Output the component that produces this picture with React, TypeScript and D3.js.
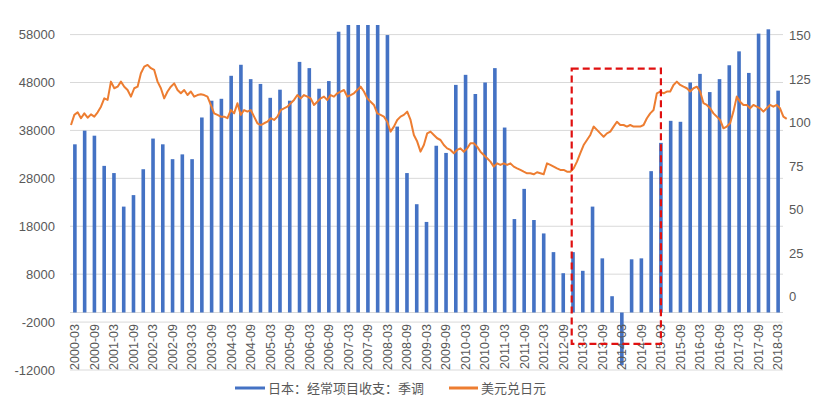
import * as React from "react";
import * as d3 from "d3";

// quarterly current account (left axis) and USD/JPY (right axis)
const years = d3.range(2000, 2019);
const quarterEnds = ["03", "06", "09", "12"];
const categories: string[] = years
  .flatMap(y => quarterEnds.map(q => `${y}-${q}`))
  .filter(c => c <= "2018-03");

const currentAccount = [
  35100, 37950, 36900, 30600, 29100, 22100, 24500, 29900, 36300, 35100,
  32000, 33000, 32000, 40700, 44200, 44600, 49400, 51700, 48700, 47700,
  44800, 46500, 44200, 52300, 51000, 46700, 48300, 58600, 63000, 65000,
  64000, 62000, 57900, 38800, 29100, 22600, 18900, 34800, 33300, 47500,
  49600, 45600, 48000, 51000, 38600, 19500, 25800, 19300, 16500, 12600,
  8200, 12600, 8700, 22100, 11300, 3400, -11000, 11100, 11300, 29500,
  35400, 40000, 39800, 48000, 49800, 46000, 48700, 51600, 54500, 50000,
  58200, 59100, 46300
];

// USD/JPY, read roughly once a month from 2000-01 to 2018-06
const usdJpy = [
  98.6, 104.4, 105.9, 102.5, 105.3, 102.8, 104.7, 103.4, 105.9, 109.1,
  113.9, 113.0, 123.5, 119.7, 120.6, 123.5, 120.6, 118.7, 114.9, 119.7,
  120.6, 128.3, 132.1, 133.1, 131.2, 130.2, 123.5, 119.7, 113.9, 117.8,
  120.6, 122.5, 118.7, 116.8, 118.7, 115.8, 117.8, 114.9, 115.8, 116.2,
  115.8, 114.9, 110.1, 105.3, 104.4, 103.4, 103.4, 102.5, 107.2, 105.3,
  111.1, 104.4, 107.2, 106.3, 107.2, 103.4, 99.6, 98.6, 99.6, 100.5,
  102.5, 101.5, 103.4, 107.2, 108.2, 109.1, 111.1, 113.0, 115.8, 113.9,
  115.8, 114.9, 113.9, 110.1, 112.0, 113.9, 114.9, 113.0, 115.8, 114.9,
  116.8, 117.8, 118.7, 114.9, 115.8, 116.8, 118.7, 120.6, 117.8, 113.9,
  112.0, 110.1, 105.3, 104.4, 103.4, 100.5, 94.8, 97.7, 101.5, 103.4,
  104.4, 106.3, 101.5, 92.9, 89.1, 83.3, 87.1, 93.8,
  94.8, 92.9, 91.0, 90.0, 87.1, 85.2, 84.3, 82.4, 84.3, 85.2,
  83.3, 85.2, 88.1, 88.1, 86.2, 83.3, 81.4, 79.5, 77.6, 74.7,
  76.6, 75.7, 76.6, 75.7, 76.6, 74.7, 73.7, 72.8, 71.8, 70.9,
  70.9, 70.3, 71.5, 70.9, 70.3, 76.6, 75.7, 74.7, 73.7, 72.8,
  72.8, 71.8, 71.8, 73.7, 77.6, 82.4, 87.1, 90.0, 92.9, 97.7,
  95.8, 93.8, 91.9, 93.8, 94.8, 97.7, 100.5, 98.6, 98.6, 97.7,
  98.6, 97.7, 97.7, 97.7, 98.6, 102.5, 105.3, 107.2, 116.8, 117.8,
  116.8, 117.8, 117.8, 121.6, 123.5, 121.6, 120.6, 119.7, 117.8, 119.7,
  120.6, 117.8, 111.1, 110.1, 108.2, 105.3, 103.4, 101.5, 96.7, 97.7,
  99.6, 106.3, 114.9, 112.0, 110.1, 110.1, 108.2, 110.1, 109.1, 108.2,
  106.3, 108.2, 110.1, 109.1, 110.1, 108.2, 103.4, 102.1
];

const leftTicks = d3.range(-12000, 58001, 10000);
const rightTicks = [0, 25, 50, 75, 100, 125, 150];

const seriesNames = ["日本：经常项目收支：季调", "美元兑日元"];
const seriesColors = ["#4472C4", "#ED7D31"];

// highlighted window
const highlight = { from: "2012-12", to: "2015-03", top: 131, bottom: -27 };

const W = 827;
const H = 407;
const plot = { left: 70, right: 783, top: 25, bottom: 370 };
const numFont = "'Liberation Sans', Arial, sans-serif";
const cjkFont = "'Noto Sans CJK SC', 'Liberation Sans', sans-serif";
const textColor = "#595959";

export default function App() {
  const x = d3
    .scaleBand()
    .domain(categories)
    .range([plot.left, plot.right]);

  const yLeft = d3
    .scaleLinear()
    .domain([-12000, 60000])
    .range([plot.bottom, plot.top])
    .clamp(true);

  const yRight = d3
    .scaleLinear()
    .domain([-42, 156])
    .range([plot.bottom, plot.top]);

  const xLine = d3
    .scaleLinear()
    .domain([0, usdJpy.length - 1])
    .range([71, 786.7]);

  const line = d3
    .line<number>()
    .x((d, i) => xLine(i))
    .y(d => yRight(d));

  const barW = 3.6;
  const cx = (c: string) => (x(c) as number) + x.bandwidth() / 2;

  const hx0 = cx(highlight.from) - 1.3;
  const hx1 = cx(highlight.to);

  return (
    <svg
      width={W}
      height={H}
      style={{ position: "absolute", left: 0, top: 0, background: "#fff" }}
    >
      {/* gridlines */}
      <g>
        {leftTicks.map(t => (
          <line
            key={t}
            x1={plot.left}
            x2={plot.right}
            y1={yLeft(t)}
            y2={yLeft(t)}
            stroke="#d9d9d9"
            strokeWidth={1}
          />
        ))}
      </g>

      {/* left axis labels */}
      <g fontFamily={numFont} fontSize={13} fill={textColor}>
        {leftTicks.map(t => (
          <text key={t} x={55} y={yLeft(t)} dy="0.35em" textAnchor="end">
            {t}
          </text>
        ))}
      </g>

      {/* right axis labels */}
      <g fontFamily={numFont} fontSize={13} fill={textColor}>
        {rightTicks.map(t => (
          <text key={t} x={789} y={yRight(t)} dy="0.35em" textAnchor="start">
            {t}
          </text>
        ))}
      </g>

      {/* category axis line */}
      <line
        x1={plot.left}
        x2={plot.right}
        y1={yLeft(0)}
        y2={yLeft(0)}
        stroke="#d9d9d9"
      />

      {/* bars */}
      <g fill={seriesColors[0]}>
        {categories.map((c, i) => {
          const v = currentAccount[i];
          const y0 = yLeft(0);
          const y1 = yLeft(v);
          return (
            <rect
              key={c}
              x={cx(c) - barW / 2}
              width={barW}
              y={Math.min(y0, y1)}
              height={Math.abs(y1 - y0)}
            />
          );
        })}
      </g>

      {/* category labels */}
      <g fontFamily={numFont} fontSize={12.5} fill={textColor}>
        {categories.map((c, i) =>
          i % 2 === 0 ? (
            <text
              key={c}
              transform={`translate(${cx(c)},324) rotate(-90)`}
              dy="0.35em"
              textAnchor="end"
            >
              {c}
            </text>
          ) : null
        )}
      </g>

      {/* USD/JPY line */}
      <path
        d={line(usdJpy) as string}
        fill="none"
        stroke={seriesColors[1]}
        strokeWidth={2}
        strokeLinejoin="round"
      />

      {/* highlighted window */}
      <rect
        x={hx0}
        y={yRight(highlight.top)}
        width={hx1 - hx0}
        height={yRight(highlight.bottom) - yRight(highlight.top)}
        fill="none"
        stroke="#E01010"
        strokeWidth={2.2}
        strokeDasharray="7,4"
      />

      {/* legend */}
      <g fontFamily={cjkFont} fontSize={13} fill={textColor}>
        <line x1={235} x2={265} y1={388} y2={388} stroke={seriesColors[0]} strokeWidth={3} />
        <text x={268} y={388} dy="0.35em">
          {seriesNames[0]}
        </text>
        <line x1={449} x2={478} y1={388} y2={388} stroke={seriesColors[1]} strokeWidth={3} />
        <text x={481} y={388} dy="0.35em">
          {seriesNames[1]}
        </text>
      </g>
    </svg>
  );
}
